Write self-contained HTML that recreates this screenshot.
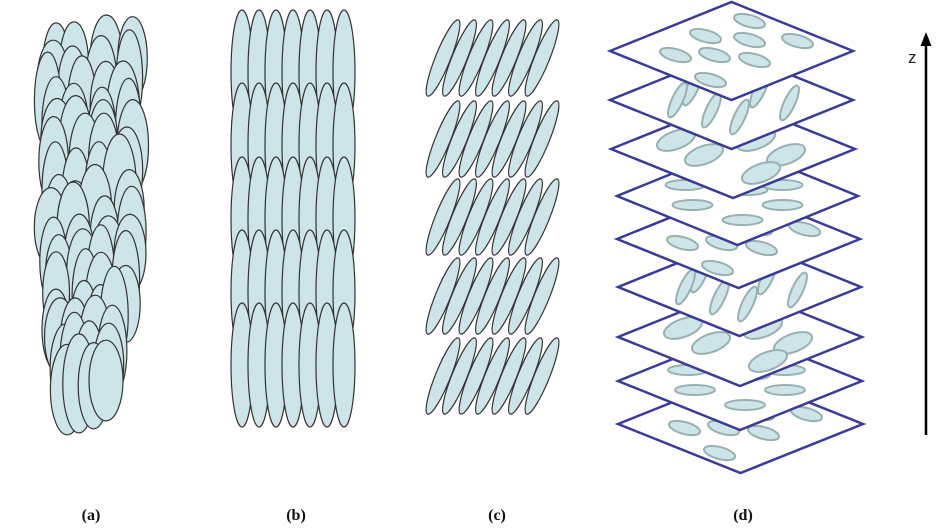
<!DOCTYPE html>
<html><head><meta charset="utf-8">
<style>
html,body{margin:0;padding:0;background:#fff;}
svg{display:block;}
</style></head>
<body>
<svg id="s" width="936" height="532" viewBox="0 0 936 532" xmlns="http://www.w3.org/2000/svg">
<g id="ga"></g><g id="gb"></g><g id="gc"></g><g id="gd"></g>
<line x1="926" y1="435" x2="926" y2="42" stroke="#000" stroke-width="2.5"/>
<polygon points="926,32 920.5,46 931.5,46" fill="#000"/>
<text x="908" y="63" font-family="Liberation Sans, sans-serif" font-size="17" fill="#222">z</text>
<g font-family="Liberation Serif, serif" font-weight="bold" font-size="16" fill="#111" text-anchor="middle">
<text x="91" y="520">(a)</text>
<text x="296" y="520">(b)</text>
<text x="497" y="520">(c)</text>
<text x="743" y="520">(d)</text>
</g>
</svg>
<script>
var NS="http://www.w3.org/2000/svg";
function el(g,tag,a){var e=document.createElementNS(NS,tag);for(var k in a)e.setAttribute(k,a[k]);document.getElementById(g).appendChild(e);return e;}
var F="#cde4e8",S="#333";
// (a) random stack
var seed=11;function rnd(){seed=(seed*9301+49297)%233280;return seed/233280;}
for(var y=58;y<=400;y+=22){
  var xl,xr;
  if(y<250){xl=42;xr=138;}else{xl=46+(y-250)*0.08;xr=140-(y-250)*0.2;}
  var n=4;
  for(var i=0;i<n;i++){
    var cx=xl+(xr-xl)*(i+0.2+rnd()*0.6)/n;
    var cy=y+rnd()*16-8;
    var ry=38+rnd()*12, rx=13+rnd()*4;
    if(cy-ry<15)cy=15+ry;
    if(cy+ry>447)cy=447-ry;
    el("ga","ellipse",{cx:cx.toFixed(1),cy:cy.toFixed(1),rx:rx.toFixed(1),ry:ry.toFixed(1),fill:F,stroke:S,"stroke-width":1.2});
  }
}
// (b)
var rows=[10,83,157,230,303];
rows.forEach(function(t){for(var i=0;i<7;i++){el("gb","ellipse",{cx:242+i*17,cy:t+62,rx:11,ry:62,fill:F,stroke:S,"stroke-width":1.2});}});
// (c)
var gys=[58,139,217,296,376];
gys.forEach(function(gy){for(var i=0;i<7;i++){var cx=443+i*16.5;el("gc","ellipse",{cx:cx,cy:gy,rx:7.5,ry:41,fill:F,stroke:S,"stroke-width":1.2,transform:"rotate(22 "+cx+" "+gy+")"});}});
// (d)
var P={
A:{rx:16,ry:6,rot:15,pts:[[18,-30],[-26,-15],[18,-11],[66,-10],[-56,4],[-17,4],[23,9],[-21,29]]},
B:{rx:5.5,ry:19,rot:25,pts:[[-39,-12],[-54,0],[-20,10],[8,17],[28,-10],[58,3]]},
C:{rx:20,ry:9,rot:-20,pts:[[23,-9],[-57,-9],[-29,6],[53,6],[28,24]]},
D:{rx:20,ry:5,rot:0,pts:[[-52,-11],[10,-6],[45,-11],[-45,9],[45,9],[5,24]]}
};
var planes=[
[51,610,853,'A'],[100,610,853,'B'],[149,611,855,'C'],[196,617,858,'D'],
[239,617,860,'A'],[287,618,861,'B'],[337,618,862,'C'],[381,618,862,'D'],[424,618,863,'A']];
for(var j=planes.length-1;j>=0;j--){
  var p=planes[j],y=p[0],L=p[1],R=p[2],cx=(L+R)/2,h=49;
  el("gd","polygon",{points:L+","+y+" "+cx+","+(y-h)+" "+R+","+y+" "+cx+","+(y+h),fill:"#fff",stroke:"#3a3a98","stroke-width":2.5,"stroke-linejoin":"miter"});
  var pat=P[p[3]];
  pat.pts.forEach(function(q){var ex=cx+q[0],ey=y+q[1];
    el("gd","ellipse",{cx:ex,cy:ey,rx:pat.rx,ry:pat.ry,fill:F,stroke:"#98b0b0","stroke-width":2,transform:"rotate("+pat.rot+" "+ex+" "+ey+")"});});
}
</script>
</body></html>
